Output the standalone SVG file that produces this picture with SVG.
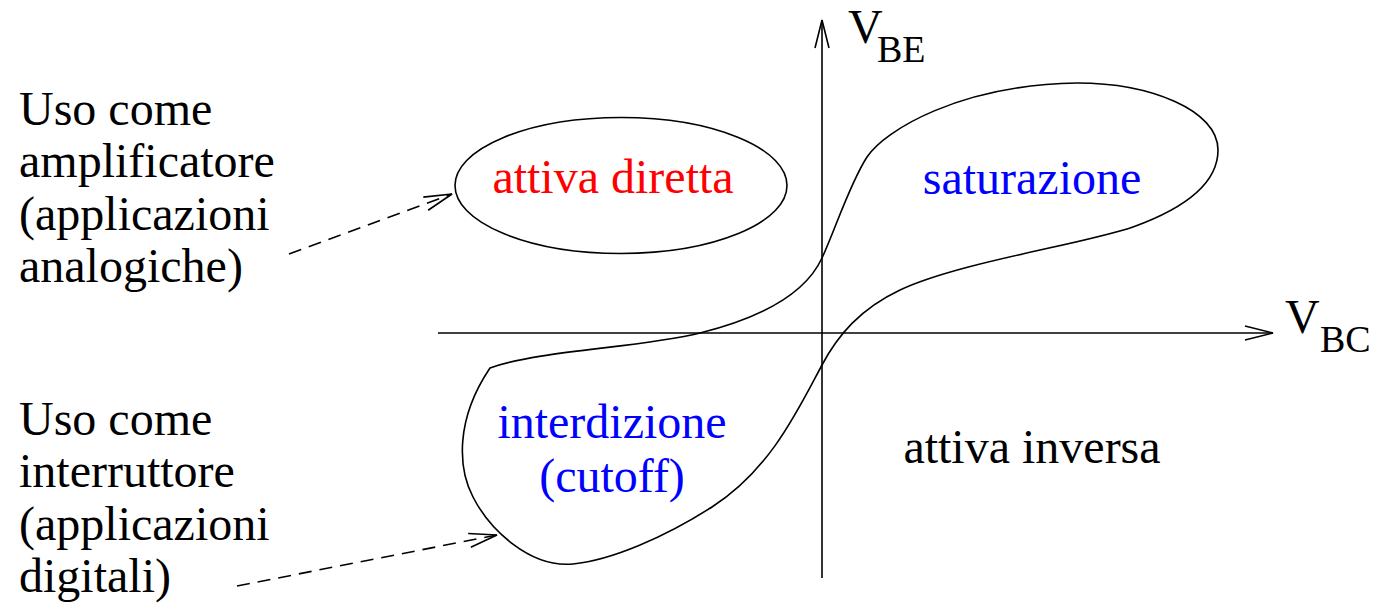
<svg xmlns="http://www.w3.org/2000/svg" width="1377" height="608" viewBox="0 0 1377 608">
<style>
text{font-family:'Liberation Serif','Times New Roman',serif;font-size:48px;fill:#000}
.sub{font-size:38px}
.red{fill:#ff0000}
.blue{fill:#0000ff}
.ln{fill:none;stroke:#000;stroke-width:1.6}
.dash{stroke-dasharray:13 8}
</style>
<defs>
<marker id="ah" markerUnits="userSpaceOnUse" markerWidth="40" markerHeight="20" viewBox="-32 -10 36 20" refX="0" refY="0" orient="auto">
<path d="M-28,-7 L0,0 L-28,7" fill="none" stroke="#000" stroke-width="1.6"/>
</marker>
</defs>
<g id="connectors">
<line class="ln" x1="822" y1="578" x2="822" y2="20" marker-end="url(#ah)"/>
<line class="ln" x1="438" y1="333" x2="1273" y2="333" marker-end="url(#ah)"/>
<line class="ln dash" x1="289" y1="254" x2="452" y2="194" marker-end="url(#ah)"/>
<line class="ln dash" x1="237" y1="586" x2="497" y2="535" marker-end="url(#ah)"/>
</g>
<g id="attiva-diretta">
<ellipse class="ln" cx="621" cy="185.5" rx="166" ry="68"/>
<text class="red" x="613" y="193" text-anchor="middle">attiva diretta</text>
</g>
<g id="regione-curva">
<path class="ln" d="M490,368 C540,350 640,348 700,333 C760,318 805,295 822,258 C835,230 850,183 867,157 C885,130 960,85 1077,83 C1150,83 1218,110 1218,150 C1218,185 1180,210 1133,227 C1080,245 960,262 900,290 C860,309 838,335 822,365 C798,410 770,470 712,507 C665,537 612,560 573,564 C530,568 490,530 473,497 C458,468 455,420 490,368 Z"/>
</g>
<g id="saturazione">
<text class="blue" x="1032" y="194" text-anchor="middle">saturazione</text>
</g>
<g id="interdizione">
<text class="blue" x="612" y="438" text-anchor="middle">interdizione</text>
<text class="blue" x="612" y="492" text-anchor="middle">(cutoff)</text>
</g>
<g id="attiva-inversa">
<text x="1032" y="463" text-anchor="middle">attiva inversa</text>
</g>
<g id="label-vbe">
<text x="848" y="43">V</text><text class="sub" x="877" y="62">BE</text>
</g>
<g id="label-vbc">
<text x="1285" y="333">V</text><text class="sub" x="1320" y="352">BC</text>
</g>
<g id="uso-amplificatore">
<text x="19" y="125">Uso come</text>
<text x="19" y="177">amplificatore</text>
<text x="19" y="230">(applicazioni</text>
<text x="19" y="282">analogiche)</text>
</g>
<g id="uso-interruttore">
<text x="19" y="435">Uso come</text>
<text x="19" y="487">interruttore</text>
<text x="19" y="540">(applicazioni</text>
<text x="19" y="592">digitali)</text>
</g>
</svg>
